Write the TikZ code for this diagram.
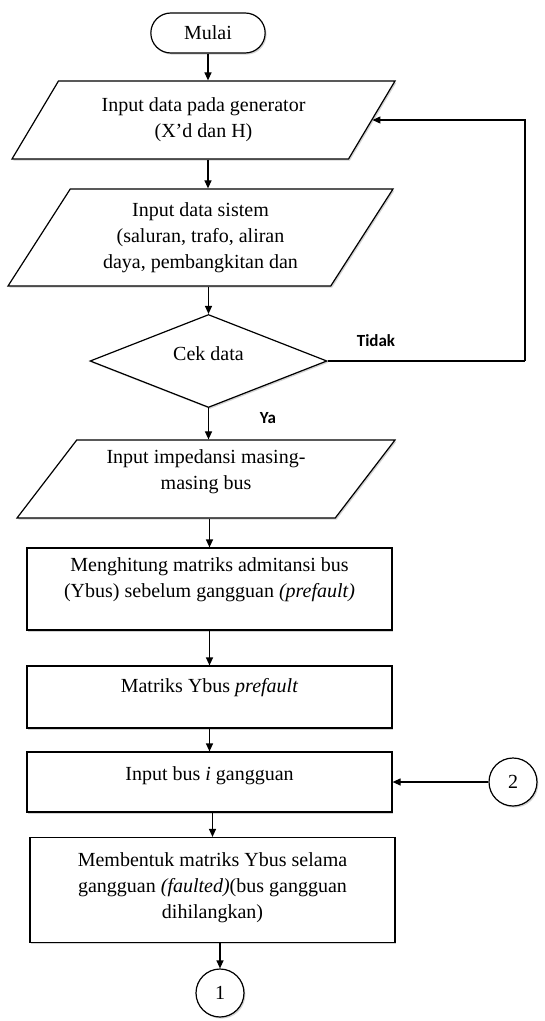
\documentclass[tikz,border=0pt]{standalone}
\usepackage{fontspec}
\setmainfont{Liberation Serif}
\newfontfamily\labelfont{Carlito}
\usetikzlibrary{shapes.geometric,shapes.misc,arrows.meta,shadows}

\tikzset{
    garis/.style={line width=1.2pt},
    bayang/.style={drop shadow={shadow xshift=1.4pt,shadow yshift=-1.6pt,opacity=0.35}},
    proses/.style={garis, bayang, draw, fill=white, rectangle, align=center,
        inner sep=3pt, minimum width=365pt},
    masukan/.style={garis, bayang, draw, fill=white, trapezium, trapezium stretches body,
        align=center, inner sep=2pt},
    terminal/.style={garis, bayang, draw, fill=white, rounded rectangle,
        minimum width=121pt, minimum height=40pt},
    keputusan/.style={garis, bayang, draw, fill=white, diamond, aspect=2.5,
        inner sep=2pt, minimum width=237pt, minimum height=93pt},
    konektor/.style={garis, bayang, draw, fill=white, circle, minimum size=48pt, inner sep=0pt},
    panah/.style={garis, -{Triangle[length=8pt,width=7pt]}},
    ket/.style={font=\labelfont\bfseries\fontsize{17}{20}\selectfont}
}

\begin{document}
\begin{tikzpicture}[x=1pt, y=-1pt, font=\fontsize{20}{26}\selectfont]
    \useasboundingbox (0,0) rectangle (545,1021);

    % Mulai dan masukan data
    \node[terminal] (mulai) at (208,33) {Mulai};
    \node[masukan, trapezium left angle=46, trapezium right angle=134,
        minimum width=383pt, minimum height=78pt] (in1) at (203.5,120)
        {Input data pada generator\\(X’d dan H)};
    \node[masukan, trapezium left angle=50, trapezium right angle=130,
        minimum width=385pt, minimum height=97pt] (in2) at (200.5,237.5)
        {Input data sistem\\(saluran, trafo, aliran\\daya, pembangkitan dan};

    % Pengecekan data
    \node[keputusan, text depth=14pt] (cek) at (208.5,361) {Cek data};
    \coordinate (balik) at (525,361);
    \node[ket] (tidak) at (376,341) {Tidak};
    \node[ket] (ya) at (268,418) {Ya};

    \node[masukan, trapezium left angle=46, trapezium right angle=134,
        minimum width=378pt, minimum height=78pt, text depth=18pt] (in3) at (206,479)
        {Input impedansi masing-\\masing bus};

    % Proses matriks Ybus
    \node[proses, minimum height=82pt, text depth=22pt] (hitung) at (209.5,589)
        {Menghitung matriks admitansi bus\\(Ybus) sebelum gangguan \textit{(prefault)}};
    \node[proses, minimum height=62pt, text depth=24pt] (ybus) at (209.5,697)
        {Matriks Ybus \textit{prefault}};
    \node[proses, minimum height=60pt, text depth=16pt] (bus) at (209.5,782)
        {Input bus \textit{i} gangguan};
    \node[proses, minimum height=105pt, text depth=9pt] (bentuk) at (212.5,890)
        {Membentuk matriks Ybus selama\\gangguan \textit{(faulted)}(bus gangguan\\dihilangkan)};

    % Konektor
    \node[konektor] (dua) at (513,782) {2};
    \node[konektor] (satu) at (220,993) {1};

    % Panah
    \draw[panah] (mulai.south) -- (mulai.south |- in1.north);
    \draw[panah] (in1.south -| mulai.south) -- (in2.north -| mulai.south);
    \draw[panah] (in2.south -| cek.north) -- (cek.north);
    \draw[garis] (cek.east) -- (balik);
    \draw[panah] (balik) |- (in1.east);
    \draw[panah] (cek.south) -- (cek.south |- in3.north);
    \draw[panah] (in3.south -| hitung.north) -- (hitung.north);
    \draw[panah] (hitung.south) -- (ybus.north);
    \draw[panah] (ybus.south) -- (bus.north);
    \draw[panah] (dua.west) -- (bus.east);
    \draw[panah] (bus.south -| bentuk.north) -- (bentuk.north);
    \draw[panah] (bentuk.south -| satu.north) -- (satu.north);
\end{tikzpicture}
\end{document}
